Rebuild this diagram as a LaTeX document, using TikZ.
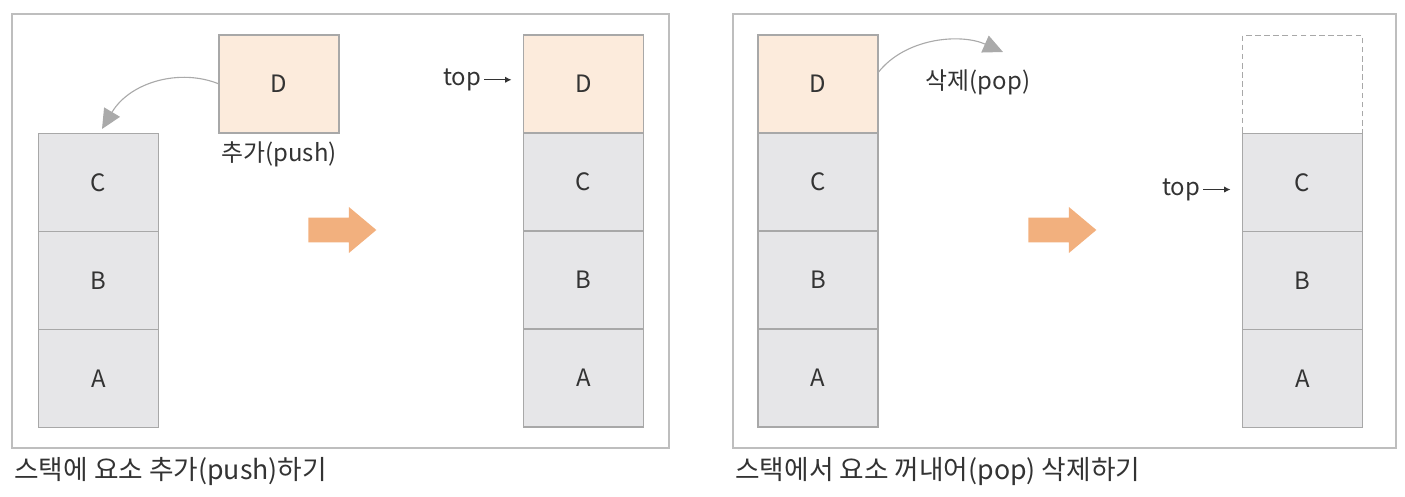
\documentclass[tikz,border=0pt]{standalone}
\usepackage{fontspec}
\setmainfont{Noto Sans CJK KR}
\usetikzlibrary{positioning,shapes.arrows,arrows.meta}
\definecolor{cellgray}{HTML}{E6E6E8}
\definecolor{edgegray}{HTML}{A8A8A8}
\definecolor{peach}{HTML}{FCEBDC}
\definecolor{framegray}{HTML}{BEBEBE}
\definecolor{curvegray}{HTML}{AAAAAA}
\definecolor{arroworange}{HTML}{F2B07E}
\definecolor{textgray}{HTML}{333333}

\tikzset{
	cell/.style={draw=edgegray, fill=cellgray, line width=0.9pt, minimum width=3cm, minimum height=2.45cm,
		inner sep=0pt, outer sep=0pt, text=textgray, font=\fontsize{17}{20}\selectfont},
	topcell/.style={cell, fill=peach},
	emptycell/.style={cell, fill=white, dashed, dash pattern=on 4pt off 2.5pt},
	panel/.style={draw=framegray, line width=0.9pt},
	bigarrow/.style={single arrow, fill=arroworange, draw=none, minimum height=1.7cm,
		inner xsep=0pt, inner ysep=0.3cm, single arrow head extend=0.27cm, single arrow tip angle=80},
	curvearrow/.style={draw=curvegray, line width=0.8pt, -{Triangle[length=14pt,width=13pt]}},
	toparrow/.style={line width=1pt, draw=textgray, -{Latex[length=4.5pt,width=4.5pt]}},
	lbl/.style={text=textgray, font=\fontsize{17}{20}\selectfont},
	caption/.style={text=textgray, font=\fontsize{19}{22}\selectfont, anchor=west, inner sep=0pt}
}

\begin{document}
\begin{tikzpicture}[x=0.025cm, y=-0.025cm]
	\useasboundingbox (0,0) rectangle (1405,497);
	% panels
	\draw[panel] (12,14) rectangle (669,448);
	\draw[panel] (733,14) rectangle (1396,448);

	% push: before
	\node[cell] (c1) at (98.5,182.5) {C};
	\node[cell, below=0pt of c1] (b1) {B};
	\node[cell, below=0pt of b1] (a1) {A};
	\node[topcell] (d1) at (279,84) {D};
	\node[lbl, below=3pt of d1] (push) {추가(push)};
	\coordinate (pushend) at (102,129);
	\draw[curvearrow] (d1.west) .. controls (180,68) and (130,82) .. (pushend);

	\node[bigarrow] (go1) at (335,230) {};

	% push: after
	\node[topcell] (d2) at (583.5,84) {D};
	\node[cell, below=0pt of d2] (c2) {C};
	\node[cell, below=0pt of c2] (b2) {B};
	\node[cell, below=0pt of b2] (a2) {A};
	\node[lbl, left=28pt of d2.west, anchor=east, yshift=3pt, inner sep=2pt] (top1) {top};
	\draw[toparrow] (top1.east) -- ([xshift=-8.5pt]d2.west |- top1.east);

	% pop: before
	\node[topcell] (d3) at (818,84) {D};
	\node[cell, below=0pt of d3] (c3) {C};
	\node[cell, below=0pt of c3] (b3) {B};
	\node[cell, below=0pt of b3] (a3) {A};
	\node[lbl] (pop) at (978,82) {삭제(pop)};
	\coordinate (popend) at (1003,52);
	\draw[curvearrow] ([yshift=8pt]d3.east) .. controls (905,38) and (960,33) .. (popend);

	\node[bigarrow] (go2) at (1055,230) {};

	% pop: after
	\node[cell] (c4) at (1302.5,182.5) {C};
	\node[cell, below=0pt of c4] (b4) {B};
	\node[cell, below=0pt of b4] (a4) {A};
	\node[emptycell, above=0pt of c4] (e4) {};
	\node[lbl, left=28pt of c4.west, anchor=east, yshift=-5pt, inner sep=2pt] (top2) {top};
	\draw[toparrow] (top2.east) -- ([xshift=-8.5pt]c4.west |- top2.east);

	% captions
	\node[caption] (cap1) at (14,472) {스택에 요소 추가(push)하기};
	\node[caption] (cap2) at (735,472) {스택에서 요소 꺼내어(pop) 삭제하기};
\end{tikzpicture}
\end{document}
